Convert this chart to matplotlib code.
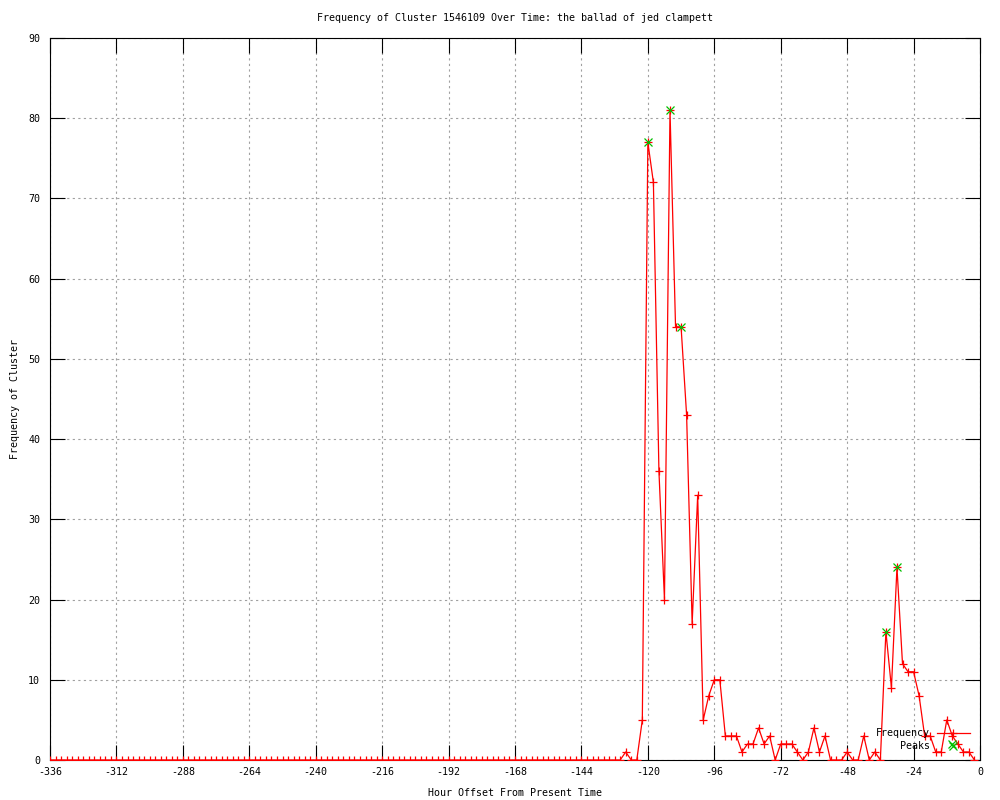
import numpy as np
import matplotlib
matplotlib.use("Agg")
import matplotlib.pyplot as plt

# ---- data ----
hours = np.arange(-336, 0, 2)  # 2-hour bins, -336 .. -2
frequency = [
    0, 0, 0, 0, 0, 0, 0, 0, 0, 0, 0, 0, 0, 0, 0, 0, 0, 0, 0, 0,
    0, 0, 0, 0, 0, 0, 0, 0, 0, 0, 0, 0, 0, 0, 0, 0, 0, 0, 0, 0,
    0, 0, 0, 0, 0, 0, 0, 0, 0, 0, 0, 0, 0, 0, 0, 0, 0, 0, 0, 0,
    0, 0, 0, 0, 0, 0, 0, 0, 0, 0, 0, 0, 0, 0, 0, 0, 0, 0, 0, 0,
    0, 0, 0, 0, 0, 0, 0, 0, 0, 0, 0, 0, 0, 0, 0, 0, 0, 0, 0, 0,
    0, 0, 0, 0,
    1, 0, 0, 5, 77, 72, 36, 20, 81, 54, 54, 43, 17, 33, 5, 8,
    10, 10, 3, 3, 3, 1, 2, 2, 4, 2, 3, 0, 2, 2, 2, 1,
    0, 1, 4, 1, 3, 0, 0, 0, 1, 0, 0, 3, 0, 1, 0, 16,
    9, 24, 12, 11, 11, 8, 3, 3, 1, 1, 5, 3, 2, 1, 1, 0,
]
peak_hours = [-120, -112, -108, -34, -30, -10]
peak_values = [77, 81, 54, 16, 24, 2]

title = "Frequency of Cluster 1546109 Over Time: the ballad of jed clampett"
xlabel = "Hour Offset From Present Time"
ylabel = "Frequency of Cluster"
xticks = list(range(-336, 1, 24))
yticks = list(range(0, 91, 10))

# ---- style ----
plt.rcParams['font.family'] = ['DejaVu Sans Mono', 'DejaVu Sans']
plt.rcParams['font.size'] = 7.2
plt.rcParams['axes.unicode_minus'] = False

fig = plt.figure(figsize=(10, 8), dpi=100)
ax = fig.add_axes([0.05, 0.05, 0.93, 0.9025])

ax.plot(hours, frequency, color='#ff0000', lw=0.9, marker='+',
        markersize=6, markeredgewidth=0.9, zorder=3)
ax.plot(peak_hours, peak_values, linestyle='none', color='#00c000',
        marker='x', markersize=5.5, markeredgewidth=0.9, zorder=4)

ax.set_xlim(-336, 0)
ax.set_ylim(0, 90)
ax.set_xticks(xticks)
ax.set_yticks(yticks)
ax.tick_params(direction='in', length=11, width=0.8, top=True, right=True,
               labelsize=7.2, colors='black')
ax.tick_params(axis='y', pad=7)
ax.tick_params(axis='x', pad=5)
ax.grid(True, color='#a0a0a0', linestyle=(0, (2, 3)), linewidth=0.8)
ax.set_axisbelow(True)
for s in ax.spines.values():
    s.set_linewidth(0.8)
    s.set_color('black')

ax.set_title(title, fontsize=7.2, pad=12)
ax.set_xlabel(xlabel, fontsize=7.2, labelpad=8)
ax.set_ylabel(ylabel, fontsize=7.2, labelpad=6)

# legend (gnuplot style, right-aligned labels, no frame)
ax.text(0.946, 0.0374, "Frequency", transform=ax.transAxes, ha='right',
        va='center', fontsize=7.2, zorder=5)
ax.text(0.946, 0.0194, "Peaks", transform=ax.transAxes, ha='right',
        va='center', fontsize=7.2, zorder=5)
ax.plot([0.9538, 0.9892], [0.0374, 0.0374], transform=ax.transAxes,
        color='#ff0000', lw=0.9, zorder=5)
ax.plot([0.9715], [0.0374], transform=ax.transAxes, color='#ff0000',
        marker='+', markersize=6, markeredgewidth=0.9, zorder=5)
ax.plot([0.9715], [0.0194], transform=ax.transAxes, color='#00c000',
        marker='x', markersize=5.5, markeredgewidth=0.9, zorder=5)

fig.savefig("out.png", dpi=100)
